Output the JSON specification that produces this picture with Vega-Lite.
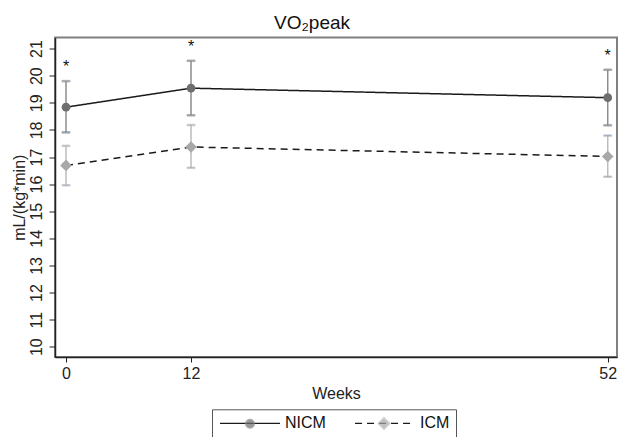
{
  "$schema": "https://vega.github.io/schema/vega-lite/v6.json",
  "width": 562,
  "height": 319.5,
  "autosize": "none",
  "padding": {"left": 55, "top": 37.5, "right": 2, "bottom": 80},
  "background": "white",
  "config": {
    "font": "Liberation Sans",
    "view": {"stroke": "#808080", "strokeWidth": 2},
    "axisY": {
      "tickCount": 12, "grid": false,
      "labelAngle": -90, "labelAlign": "center", "labelBaseline": "alphabetic",
      "labelOverlap": false, "labelFlush": false,
      "labelFontSize": 16, "titleFontSize": 16, "titleFontWeight": "normal",
      "labelColor": "#222222", "titleColor": "#222222",
      "domainColor": "#222222", "tickColor": "#222222", "domainWidth": 1.5, "tickWidth": 1,
      "tickSize": 6, "labelPadding": 8, "titlePadding": 1
    }
  },
  "title": {
    "text": "VO₂peak",
    "fontSize": 19,
    "font": "Liberation Sans",
    "fontWeight": "normal",
    "color": "#111111",
    "anchor": "middle",
    "frame": "group",
    "dx": -24,
    "offset": -10,
    "baseline": "alphabetic"
  },
  "data": {
    "values": [
      {"week": 0, "group": "NICM", "mean": 18.84, "lower": 17.91, "upper": 19.80, "sig": "*"},
      {"week": 12, "group": "NICM", "mean": 19.54, "lower": 18.54, "upper": 20.55, "sig": "*"},
      {"week": 52, "group": "NICM", "mean": 19.19, "lower": 18.17, "upper": 20.22, "sig": "*"},
      {"week": 0, "group": "ICM", "mean": 16.69, "lower": 15.96, "upper": 17.41, "sig": ""},
      {"week": 12, "group": "ICM", "mean": 17.37, "lower": 16.60, "upper": 18.18, "sig": ""},
      {"week": 52, "group": "ICM", "mean": 17.02, "lower": 16.27, "upper": 17.79, "sig": ""}
    ]
  },
  "encoding": {
    "x": {
      "field": "week", "type": "quantitative",
      "scale": {"domain": [-1.056, 52.89], "nice": false, "zero": false},
      "axis": {
        "values": [0, 12, 52], "title": "Weeks", "grid": false,
        "labelFontSize": 16, "titleFontSize": 16, "titleFontWeight": "normal",
        "labelColor": "#222222", "titleColor": "#222222",
        "domainColor": "#222222", "tickColor": "#222222", "domainWidth": 1.5, "tickWidth": 1,
        "tickSize": 5, "labelPadding": 3, "titlePadding": 4, "labelFlush": false
      }
    }
  },
  "layer": [
    {
      "mark": {"type": "rule", "strokeWidth": 1.5},
      "encoding": {
        "y": {
          "field": "lower", "type": "quantitative",
          "scale": {"domain": [9.62, 21.41], "nice": false, "zero": false},
          "axis": {"title": "mL/(kg*min)", "tickCount": 12, "labelOverlap": false}
        },
        "y2": {"field": "upper"},
        "stroke": {
          "field": "group", "type": "nominal",
          "scale": {"domain": ["NICM", "ICM"], "range": ["#8c8c8c", "#bcbcbc"]}
        }
      }
    },
    {
      "mark": {"type": "tick", "orient": "horizontal", "size": 8, "thickness": 1.5},
      "encoding": {
        "y": {"field": "upper", "type": "quantitative"},
        "stroke": {"field": "group", "type": "nominal"}
      }
    },
    {
      "mark": {"type": "tick", "orient": "horizontal", "size": 8, "thickness": 1.5},
      "encoding": {
        "y": {"field": "lower", "type": "quantitative"},
        "stroke": {"field": "group", "type": "nominal"}
      }
    },
    {
      "mark": {"type": "line", "color": "#1a1a1a", "strokeWidth": 1.5},
      "encoding": {
        "y": {"field": "mean", "type": "quantitative"},
        "strokeDash": {
          "field": "group", "type": "nominal", "sort": ["NICM", "ICM"],
          "scale": {"range": [[1, 0], [7, 5]]},
          "legend": {
            "orient": "none", "legendX": 157, "legendY": 371.8,
            "direction": "horizontal", "title": null,
            "strokeColor": "#555555", "padding": 6,
            "symbolType": "M-5.14,0H5.14", "symbolSize": 136, "symbolStrokeWidth": 1.3,
            "symbolStrokeColor": "#1a1a1a", "symbolOffset": 24,
            "labelFontSize": 16, "labelColor": "#111111", "labelOffset": 27,
            "columnPadding": 26, "zindex": 0
          }
        }
      }
    },
    {
      "mark": {"type": "point", "filled": true, "opacity": 1},
      "encoding": {
        "y": {"field": "mean", "type": "quantitative"},
        "color": {
          "field": "group", "type": "nominal",
          "scale": {"domain": ["NICM", "ICM"], "range": ["#6e6e6e", "#a8a8a8"]},
          "legend": {
            "orient": "none", "legendX": 157, "legendY": 371.8,
            "direction": "horizontal", "title": null, "padding": 6,
            "labelOpacity": 0, "labelFontSize": 16, "labelOffset": 27,
            "symbolOffset": 24, "columnPadding": 26,
            "symbolStrokeWidth": 1.3, "symbolStrokeColor": "transparent",
            "symbolOpacity": 1, "zindex": 1
          }
        },
        "shape": {
          "field": "group", "type": "nominal",
          "scale": {"domain": ["NICM", "ICM"], "range": ["circle", "diamond"]}
        },
        "size": {
          "field": "group", "type": "nominal",
          "scale": {"domain": ["NICM", "ICM"], "range": [76, 136]}
        }
      }
    },
    {
      "mark": {"type": "text", "fontSize": 16, "baseline": "alphabetic", "dy": -9, "color": "#111111"},
      "encoding": {
        "y": {"field": "upper", "type": "quantitative"},
        "text": {"field": "sig"}
      }
    }
  ]
}
